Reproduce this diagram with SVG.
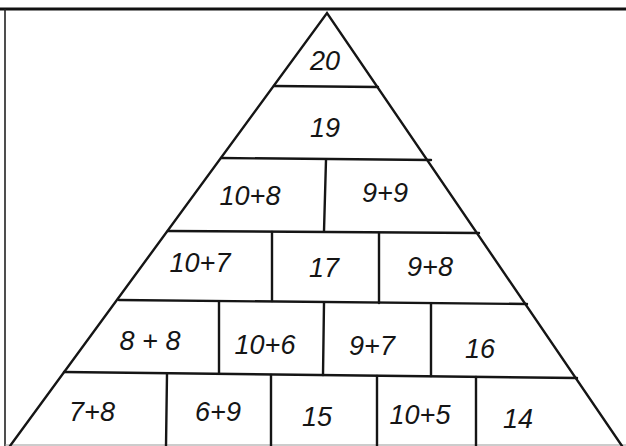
<svg xmlns="http://www.w3.org/2000/svg" width="626" height="446" viewBox="0 0 626 446">
<style>
.ln{stroke:#151515;stroke-width:2.4;fill:none;stroke-linecap:round}
text{font-family:"Liberation Sans","DejaVu Sans",sans-serif;font-size:27px;font-style:italic;fill:#151515;text-anchor:middle}
</style>
<rect width="626" height="446" fill="#fff"/>
<g id="frame">
<line x1="0" y1="9" x2="626" y2="9" stroke="#111" stroke-width="3"/>
<line x1="5" y1="9" x2="5" y2="446" stroke="#222" stroke-width="1.6"/>
<line x1="5" y1="445" x2="626" y2="445" stroke="#999" stroke-width="1"/>
</g>
<g id="lines">
<polyline class="ln" points="10,446 327,13 622,446"/>
<line class="ln" x1="274" y1="86" x2="378" y2="87"/>
<line class="ln" x1="221" y1="158" x2="431" y2="160"/>
<line class="ln" x1="168" y1="231" x2="479" y2="233"/>
<line class="ln" x1="119" y1="300" x2="527" y2="304"/>
<line class="ln" x1="64" y1="372" x2="577" y2="378"/>
<line class="ln" x1="326" y1="160" x2="324" y2="231"/>
<line class="ln" x1="272" y1="232" x2="272" y2="301"/>
<line class="ln" x1="379" y1="233" x2="379" y2="303"/>
<line class="ln" x1="219" y1="302" x2="219" y2="373"/>
<line class="ln" x1="324" y1="303" x2="323" y2="375"/>
<line class="ln" x1="431" y1="304" x2="431" y2="376"/>
<line class="ln" x1="167" y1="374" x2="166" y2="446"/>
<line class="ln" x1="271" y1="375" x2="271" y2="446"/>
<line class="ln" x1="377" y1="376" x2="377" y2="446"/>
<line class="ln" x1="476" y1="377" x2="476" y2="446"/>
</g>
<g id="r1"><text x="325" y="70">20</text></g>
<g id="r2"><text x="325" y="137">19</text></g>
<g id="r3a"><text x="250" y="205">10+8</text></g>
<g id="r3b"><text x="385" y="202">9+9</text></g>
<g id="r4a"><text x="200" y="272">10+7</text></g>
<g id="r4b"><text x="324" y="277">17</text></g>
<g id="r4c"><text x="430" y="276">9+8</text></g>
<g id="r5a"><text x="150" y="350">8 + 8</text></g>
<g id="r5b"><text x="265" y="354">10+6</text></g>
<g id="r5c"><text x="372" y="355">9+7</text></g>
<g id="r5d"><text x="480" y="358">16</text></g>
<g id="r6a"><text x="92" y="421">7+8</text></g>
<g id="r6b"><text x="218" y="421">6+9</text></g>
<g id="r6c"><text x="317" y="426">15</text></g>
<g id="r6d"><text x="420" y="424">10+5</text></g>
<g id="r6e"><text x="518" y="428">14</text></g>
</svg>
